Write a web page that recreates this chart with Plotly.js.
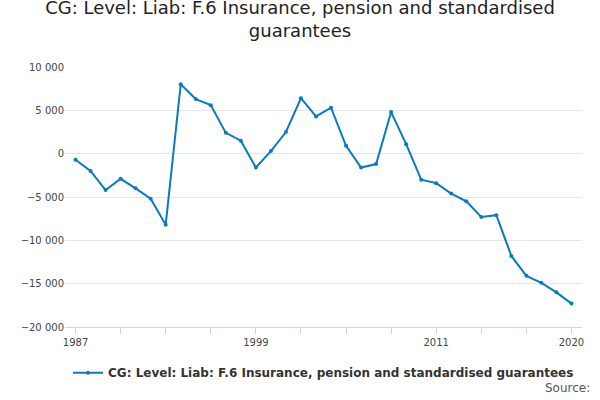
<!DOCTYPE html>
<html>
<head>
<script src="https://cdn.plot.ly/plotly-3.0.1.min.js"></script>
<style>body{margin:0}</style>
</head>
<body>
<div id="chart" style="width:600px;height:400px"></div>
<script>
const years = [];
for (let y = 1987; y <= 2020; y++) years.push(y);
const values = [-700, -2000, -4200, -2900, -4000, -5200, -8200, 8000, 6300, 5600,
  2400, 1500, -1600, 300, 2500, 6400, 4300, 5300, 900, -1600,
  -1200, 4800, 1100, -3000, -3400, -4600, -5500, -7300, -7100, -11800,
  -14100, -14900, -16000, -17300];
const tickYears = [1987, 1990, 1993, 1996, 1999, 2002, 2005, 2008, 2011, 2014, 2017, 2020];
const labelYears = [1987, 1999, 2011, 2020];

const trace = {
    x: years,
    y: values,
    type: 'scatter',
    mode: 'lines+markers',
    name: '<b>CG: Level: Liab: F.6 Insurance, pension and standardised guarantees</b>',
    line: {color: '#0a7bc1', width: 2},
    marker: {color: '#0a7bc1', size: 4}
};

const layout = {
    title: {text: 'CG: Level: Liab: F.6 Insurance, pension and standardised<br>guarantees',
        font: {family: 'DejaVu Sans', size: 18, color: '#222'}, x: 0.5, y: 0.965},
    font: {family: 'DejaVu Sans', size: 10, color: '#444'},
    separators: '. ',
    margin: {l: 65, r: 18, t: 67, b: 73},
    xaxis: {
        range: [1986.3, 2020.7],
        tickvals: tickYears,
        ticktext: tickYears.map(y => labelYears.includes(y) ? String(y) : ''),
        ticks: 'outside', ticklen: 6, tickcolor: '#ccd6eb',
        showgrid: false, showline: true, linecolor: '#ccd6eb', zeroline: false
    },
    yaxis: {
        range: [-20000, 10000],
        dtick: 5000,
        tickformat: ',d',
        gridcolor: '#e6e6e6',
        zeroline: false
    },
    showlegend: true,
    legend: {orientation: 'h', x: 0.5, xanchor: 'center', y: -0.12, font: {size: 12, color: '#333'}},
    annotations: [{text: 'Source:', xref: 'paper', yref: 'paper', x: 1.02, y: -0.27,
        xanchor: 'right', showarrow: false, font: {size: 12, color: '#555'}}]
};

Plotly.newPlot('chart', [trace], layout, {displayModeBar: false});
</script>
</body>
</html>
